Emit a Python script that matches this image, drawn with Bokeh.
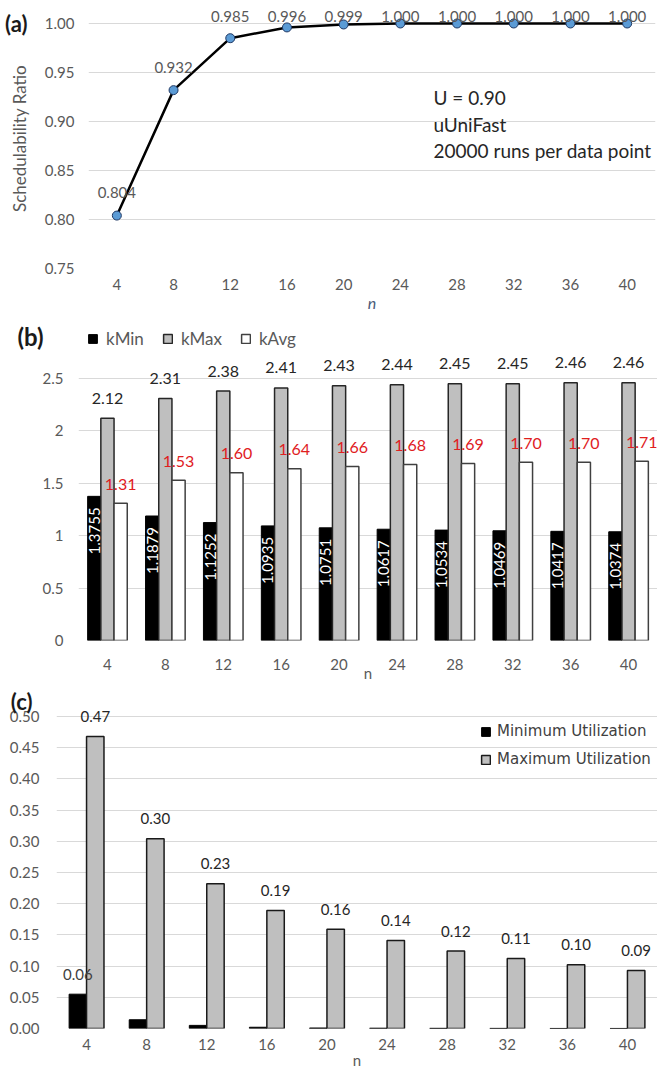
import numpy as np
from bokeh.plotting import figure
from bokeh.models import (ColumnDataSource, FactorRange, Range1d, FixedTicker,
                          LabelSet, Label, Legend, LegendItem, LinearAxis)
from bokeh.layouts import column
from bokeh.transform import dodge
from bokeh.core.properties import value
from bokeh.embed import file_html
from bokeh.resources import INLINE

# ---------------- data ----------------
n_values = ["4", "8", "12", "16", "20", "24", "28", "32", "36", "40"]

# (a) schedulability ratio
sched_ratio = [0.804, 0.932, 0.985, 0.996, 0.999, 1.000, 1.000, 1.000, 1.000, 1.000]
sched_ticks = [0.75, 0.80, 0.85, 0.90, 0.95, 1.00]
note_lines = ["U = 0.90", "uUniFast", "20000  runs per data point"]

# (b) k values
k_min = [1.3755, 1.1879, 1.1252, 1.0935, 1.0751, 1.0617, 1.0534, 1.0469, 1.0417, 1.0374]
k_max = [2.12, 2.31, 2.38, 2.41, 2.43, 2.44, 2.45, 2.45, 2.46, 2.46]
k_avg = [1.31, 1.53, 1.60, 1.64, 1.66, 1.68, 1.69, 1.70, 1.70, 1.71]
k_ticks = [0, 0.5, 1, 1.5, 2, 2.5]

# (c) utilization
u_min = [0.055, 0.014, 0.005, 0.002, 0.0008, 0.0005, 0.0003, 0.0002, 0.0001, 0.0001]
u_max = [0.468, 0.304, 0.232, 0.189, 0.159, 0.141, 0.124, 0.112, 0.102, 0.093]
u_min_labels = ["0.06", "", "", "", "", "", "", "", "", ""]
u_ticks = [0.00, 0.05, 0.10, 0.15, 0.20, 0.25, 0.30, 0.35, 0.40, 0.45, 0.50]

# ---------------- style ----------------
FONT = "Lato"
GRID = "#d9d9d9"
TICK = "#595959"
W = 657


def base_fig(height, y_end, y_ticks, fmt, left, bottom, top=0, right=0):
    p = figure(width=W, height=height,
               x_range=FactorRange(*n_values, range_padding=0),
               y_range=Range1d(y_ticks[0], y_end),
               output_backend="svg", toolbar_location=None, frame_align=False,
               min_border_left=left, min_border_right=right,
               min_border_top=top, min_border_bottom=bottom)
    p.outline_line_color = None
    p.xgrid.grid_line_color = None
    p.ygrid.grid_line_color = GRID
    p.ygrid.grid_line_width = 1
    p.yaxis.ticker = FixedTicker(ticks=y_ticks)
    p.yaxis.major_label_overrides = {t: fmt(t) for t in y_ticks}
    for ax in p.axis:
        ax.axis_line_color = None
        ax.major_tick_line_color = None
        ax.minor_tick_line_color = None
        ax.major_tick_out = 0
        ax.major_label_text_font = FONT
        ax.major_label_text_color = TICK
        ax.major_label_text_font_size = "15px"
        ax.axis_label_text_font = FONT
        ax.axis_label_text_color = TICK
        ax.axis_label_text_font_style = "normal"
        ax.axis_label_text_font_size = "15px"
    return p


def panel_tag(p, text, y, standoff, size="22px"):
    ax = LinearAxis(ticker=FixedTicker(ticks=[y]), major_label_overrides={y: text},
                    axis_line_color=None, major_tick_line_color=None,
                    minor_tick_line_color=None, major_tick_out=0,
                    major_label_standoff=standoff, major_label_text_font=FONT,
                    major_label_text_font_style="bold",
                    major_label_text_font_size=size,
                    major_label_text_color="#1a1a1a")
    p.add_layout(ax, "left")


# ---------------- (a) ----------------
pa = base_fig(318, 1.0153, sched_ticks, lambda t: f"{t:.2f}", left=88, bottom=50,
              top=8, right=2)
pa.yaxis.major_label_standoff = 14
pa.xaxis.major_label_standoff = 10
pa.yaxis.axis_label = "Schedulability Ratio"
pa.yaxis.axis_label_text_font_size = "17px"
pa.yaxis.axis_label_standoff = 12
pa.xaxis.axis_label = "n"
pa.xaxis.axis_label_text_font_style = "italic"
pa.xaxis.axis_label_text_font_size = "16px"
pa.xaxis.axis_label_text_color = "#4a5a78"
pa.xaxis.axis_label_standoff = 0

ratio_arr = np.array(sched_ratio)
src_a = ColumnDataSource(dict(
    n=n_values, ratio=sched_ratio,
    label_y=np.minimum(ratio_arr + 0.0235, 1.0071),
    label=[f"{v:.3f}" for v in sched_ratio]))
pa.line("n", "ratio", source=src_a, line_color="black", line_width=2.5)
pa.scatter("n", "ratio", source=src_a, size=9, fill_color="#5b9bd5",
           line_color="#1f3864", line_width=1)
pa.add_layout(LabelSet(x="n", y="label_y", text="label", source=src_a,
                       text_align="center", text_baseline="middle",
                       text_font=value(FONT), text_font_size="15px",
                       text_color=TICK))
for i, (line, dy) in enumerate(zip(note_lines, [-74, -101, -127])):
    pa.add_layout(Label(x=0, y=1.0, x_offset=345, y_offset=dy, text=line,
                        text_font=FONT, text_font_size="19px", text_color="#262626",
                        text_align="left", text_baseline="middle"))
panel_tag(pa, "(a)", 1.0, -22)

# ---------------- (b) ----------------
pb = base_fig(366, 3.0725, k_ticks, lambda t: f"{t:g}", left=78, bottom=44)
pb.yaxis.major_label_standoff = 15
pb.xaxis.major_label_standoff = 18
pb.xaxis.axis_label = "n"
pb.xaxis.axis_label_standoff = -9

BW_B = 0.228
src_b = ColumnDataSource(dict(
    n=n_values, k_min=k_min, k_max=k_max, k_avg=k_avg,
    min_lab=[f"{v:.4f}" for v in k_min],
    max_lab=[f"{v:.2f}" for v in k_max],
    avg_lab=[f"{v:.2f}" for v in k_avg]))
r_min = pb.vbar(x=dodge("n", -BW_B, range=pb.x_range), top="k_min", width=BW_B,
                source=src_b, fill_color="black", line_color="black", line_width=1)
r_max = pb.vbar(x=dodge("n", 0, range=pb.x_range), top="k_max", width=BW_B,
                source=src_b, fill_color="#bfbfbf", line_color="#262626", line_width=1.5)
r_avg = pb.vbar(x=dodge("n", BW_B, range=pb.x_range), top="k_avg", width=BW_B,
                source=src_b, fill_color="white", line_color="#404040", line_width=1.5)

pb.add_layout(LabelSet(x=dodge("n", -BW_B, range=pb.x_range), y="k_min", text="min_lab",
                       source=src_b, angle=np.pi / 2, text_align="right",
                       text_baseline="middle", y_offset=-11,
                       text_font=value(FONT), text_font_size="15px",
                       text_color="white"))
pb.add_layout(LabelSet(x=dodge("n", 0, range=pb.x_range), y="k_max", text="max_lab",
                       source=src_b, text_align="center", text_baseline="middle",
                       y_offset=20, text_font=value(FONT), text_font_size="16px",
                       text_color="#262626"))
pb.add_layout(LabelSet(x=dodge("n", BW_B, range=pb.x_range), y="k_avg", text="avg_lab",
                       source=src_b, text_align="center", text_baseline="middle",
                       y_offset=19, text_font=value(FONT), text_font_size="16px",
                       text_color="#e0201e"))

leg_b = Legend(items=[LegendItem(label="kMin", renderers=[r_min]),
                      LegendItem(label="kMax", renderers=[r_max]),
                      LegendItem(label="kAvg", renderers=[r_avg])],
               orientation="horizontal", location=(5, 287), padding=4, margin=0,
               spacing=18, label_standoff=8, glyph_width=11, glyph_height=11,
               label_height=11, label_text_font=FONT, label_text_font_size="17px",
               label_text_color=TICK, background_fill_alpha=0, border_line_alpha=0)
pb.add_layout(leg_b)
panel_tag(pb, "(b)", 2.896, -4, size="24px")

# ---------------- (c) ----------------
pc = base_fig(388, 0.55128, u_ticks, lambda t: f"{t:.2f}", left=56, bottom=44)
pc.yaxis.major_label_standoff = 17
pc.xaxis.major_label_standoff = 10
pc.xaxis.axis_label = "n"
pc.xaxis.axis_label_standoff = -2

BW_C = 0.29
src_c = ColumnDataSource(dict(
    n=n_values, u_min=u_min, u_max=u_max, min_lab=u_min_labels,
    max_lab=[f"{v:.2f}" for v in u_max]))
c_min = pc.vbar(x=dodge("n", -BW_C / 2, range=pc.x_range), top="u_min", width=BW_C,
                source=src_c, fill_color="black", line_color="black", line_width=1)
c_max = pc.vbar(x=dodge("n", BW_C / 2, range=pc.x_range), top="u_max", width=BW_C,
                source=src_c, fill_color="#bfbfbf", line_color="#1a1a1a", line_width=1.5)
pc.add_layout(LabelSet(x=dodge("n", -BW_C / 2, range=pc.x_range), y="u_min", text="min_lab",
                       source=src_c, text_align="center", text_baseline="middle",
                       y_offset=20, text_font=value(FONT), text_font_size="15px",
                       text_color="#404040"))
pc.add_layout(LabelSet(x=dodge("n", BW_C / 2, range=pc.x_range), y="u_max", text="max_lab",
                       source=src_c, text_align="center", text_baseline="middle",
                       y_offset=20, text_font=value(FONT), text_font_size="15px",
                       text_color="#262626"))
leg_c = Legend(items=[LegendItem(label="Minimum Utilization", renderers=[c_min]),
                      LegendItem(label="Maximum Utilization", renderers=[c_max])],
               orientation="vertical", location=(420, 256), padding=4, margin=0,
               spacing=10, label_standoff=6, glyph_width=11, glyph_height=11,
               label_height=11, label_text_font="DejaVu Sans",
               label_text_font_size="15px", label_text_color="#404040",
               background_fill_alpha=0, border_line_alpha=0)
pc.add_layout(leg_c)
panel_tag(pc, "(c)", 0.53526, -26)

layout = column(pa, pb, pc, spacing=0)
open("out.html", "w").write(file_html(layout, INLINE))
